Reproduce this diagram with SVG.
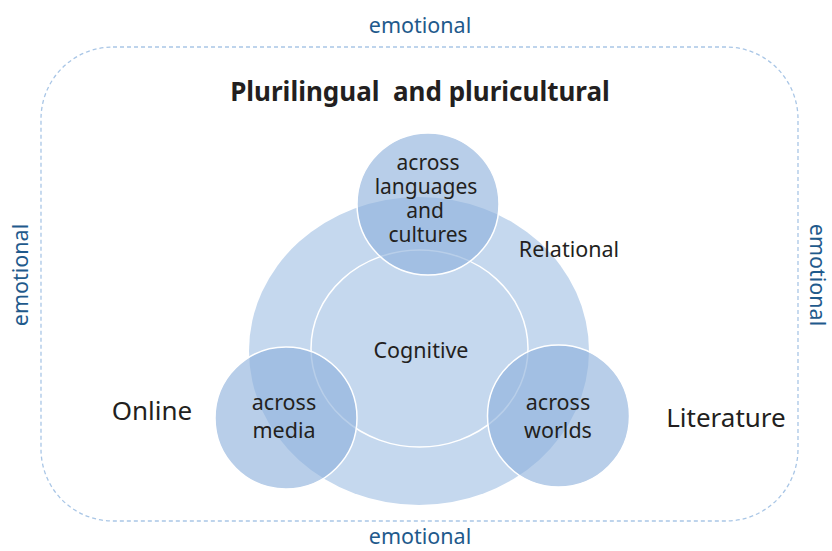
<svg xmlns="http://www.w3.org/2000/svg" width="832" height="551" viewBox="0 0 832 551">
<style>
.t{font-family:"Noto Sans","Open Sans",sans-serif;fill:#231f20;text-anchor:middle}
.e{font-family:"Noto Sans","Open Sans",sans-serif;fill:#1f5a8c;font-size:21.5px;text-anchor:middle}
.s{fill:#8cb0dc;fill-opacity:0.62;stroke:#fff;stroke-width:1.5}
</style>
<rect width="832" height="551" fill="#fff"/>
<g id="frame">
<rect x="41" y="47" width="757" height="474" rx="72" ry="72" fill="none" stroke="#a9c6e6" stroke-width="1.3" stroke-dasharray="4,3"/>
</g>
<g id="labels-emotional">
<text class="e" x="420" y="33">emotional</text>
<text class="e" x="420" y="544">emotional</text>
<text class="e" transform="translate(28,275) rotate(-90)">emotional</text>
<text class="e" transform="translate(810,275) rotate(90)">emotional</text>
</g>
<g id="title"><text class="t" x="420" y="101" font-size="26" font-weight="bold">Plurilingual&#160; and pluricultural</text></g>
<g id="relational">
<ellipse cx="419" cy="351" rx="170" ry="154" fill="#c5d8ee"/>
<text class="t" x="569" y="257" font-size="21.5">Relational</text>
</g>
<g id="cognitive">
<ellipse cx="419.5" cy="348.5" rx="108.5" ry="98.5" fill="none" stroke="#fff" stroke-width="1.5"/>
<text class="t" x="421" y="358" font-size="21.5">Cognitive</text>
</g>
<g id="languages">
<circle class="s" cx="428" cy="204" r="71"/>
<text class="t" font-size="21"><tspan x="428" y="170">across</tspan><tspan x="426" y="194">languages</tspan><tspan x="425" y="218">and</tspan><tspan x="428" y="242">cultures</tspan></text>
</g>
<g id="media">
<circle class="s" cx="286" cy="418" r="71"/>
<text class="t" font-size="21.5"><tspan x="284" y="410">across</tspan><tspan x="284" y="438">media</tspan></text>
</g>
<g id="worlds">
<circle class="s" cx="558.5" cy="416" r="71"/>
<text class="t" font-size="21.5"><tspan x="558" y="410">across</tspan><tspan x="558" y="438">worlds</tspan></text>
</g>
<g id="online"><text class="t" x="152" y="420" font-size="26">Online</text></g>
<g id="literature"><text class="t" x="726" y="427" font-size="26">Literature</text></g>
<g id="connectors"></g>
</svg>
